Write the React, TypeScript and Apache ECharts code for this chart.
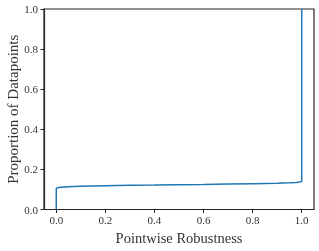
import React, { useEffect, useRef } from "react";
import * as echarts from "echarts";

const robustness = [0, 0, 0.005, 0.02, 0.05, 0.1, 0.2, 0.3, 0.4, 0.5, 0.6, 0.7, 0.8, 0.9, 0.95, 0.98, 0.995, 1.0, 1.0];
const proportion = [0, 0.105, 0.108, 0.111, 0.114, 0.116, 0.119, 0.121, 0.122, 0.124, 0.125, 0.127, 0.129, 0.131, 0.133, 0.135, 0.138, 0.14, 1.0];
const xTicks = [0, 0.2, 0.4, 0.6, 0.8, 1.0];

const FONT = "'Liberation Serif', 'DejaVu Serif', serif";

export default function App() {
  const ref = useRef<HTMLDivElement>(null);
  useEffect(() => {
    if (!ref.current) return;
    const chart = echarts.init(ref.current, null, { renderer: "svg" });
    const data = robustness.map((x, i) => [x, proportion[i]]);
    chart.setOption({
      animation: false,
      grid: {
        left: 44,
        right: 5,
        top: 9,
        bottom: 41.5,
        show: true,
        borderColor: "#262626",
        borderWidth: 1.2,
        backgroundColor: "transparent",
        containLabel: false,
        outerBoundsMode: "none",
      },
      xAxis: {
        type: "value",
        min: -0.05,
        max: 1.05,
        name: "Pointwise Robustness",
        nameLocation: "middle",
        nameGap: 20,
        nameTextStyle: { fontFamily: FONT, fontSize: 14.5, color: "#333333" },
        axisLine: { show: true, onZero: false, lineStyle: { color: "#262626", width: 1.2 } },
        axisTick: { show: true, length: 3.5, customValues: xTicks, lineStyle: { color: "#262626", width: 1 } },
        axisLabel: {
          customValues: xTicks,
          formatter: (v: number) => v.toFixed(1),
          fontFamily: FONT,
          fontSize: 11,
          color: "#333333",
          margin: 5,
        },
        splitLine: { show: false },
      },
      yAxis: {
        type: "value",
        min: 0,
        max: 1,
        interval: 0.2,
        name: "Proportion of Datapoints",
        nameLocation: "middle",
        nameGap: 24,
        nameMoveOverlap: false,
        nameTextStyle: { fontFamily: FONT, fontSize: 15, lineHeight: 15, color: "#333333" },
        axisLine: { show: true, onZero: false, lineStyle: { color: "#262626", width: 1.2 } },
        axisTick: { show: true, length: 3.5, lineStyle: { color: "#262626", width: 1 } },
        axisLabel: {
          formatter: (v: number) => v.toFixed(1),
          fontFamily: FONT,
          fontSize: 11,
          color: "#333333",
          margin: 6,
        },
        splitLine: { show: false },
      },
      series: [
        {
          type: "line",
          data,
          showSymbol: false,
          symbol: "none",
          lineStyle: { color: "#1f77b4", width: 1.5 },
          itemStyle: { color: "#1f77b4" },
        },
      ],
    });
    return () => chart.dispose();
  }, []);
  return (
    <div
      ref={ref}
      style={{ position: "fixed", left: 0, top: 0, width: 319, height: 251 }}
    />
  );
}
